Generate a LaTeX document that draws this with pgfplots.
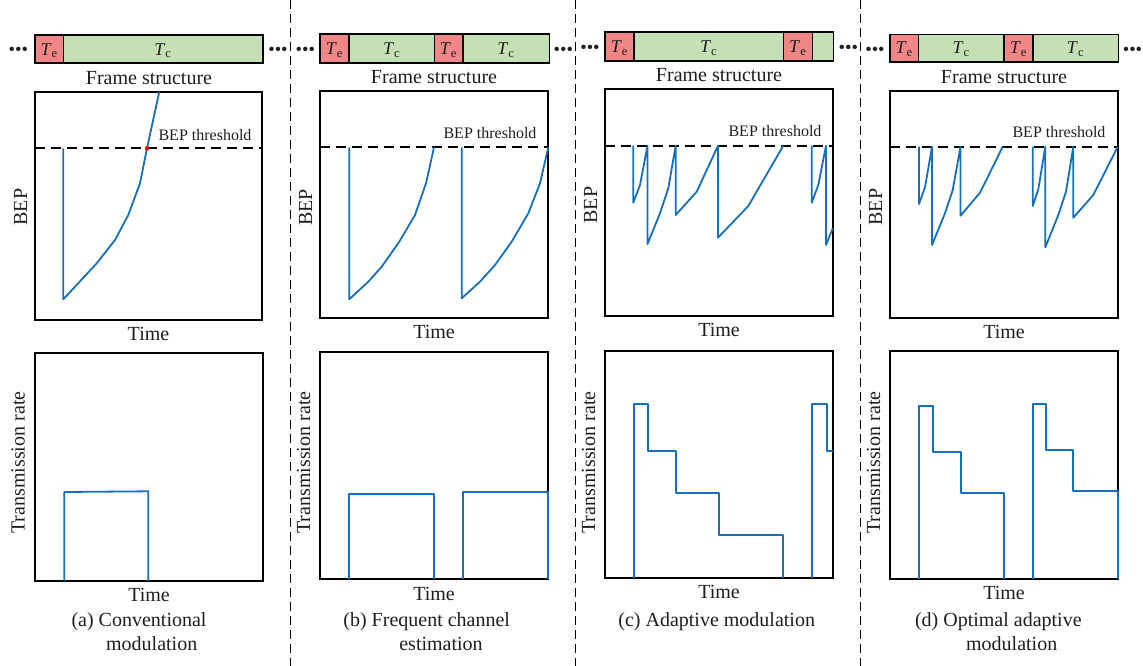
\documentclass[border=0pt]{standalone}
\usepackage{pgfplots}
\pgfplotsset{compat=1.18}
\usepackage{fontspec}
\setmainfont{Liberation Serif}
\definecolor{tecol}{RGB}{240,134,134}
\definecolor{tccol}{RGB}{197,224,180}
\definecolor{lblue}{RGB}{21,110,190}
\definecolor{txt}{RGB}{30,30,30}
\pgfplotsset{
 panel/.style={scale only axis, y dir=reverse, xtick=\empty, ytick=\empty,
   axis line style={line width=1.8pt, black}, clip=false, anchor=south west},
 curve/.style={lblue, line width=1.8pt, line join=round, no marks},
 thr/.style={black, line width=2pt, dash pattern=on 10pt off 6pt, no marks},
 seg/.style={draw=black, line width=1.6pt, no marks, line join=miter},
}
\newcommand\Te{{\fontsize{18}{18}\selectfont\textit{T}\textsubscript{e}}}
\newcommand\Tc{{\fontsize{18}{18}\selectfont\textit{T}\textsubscript{c}}}
\newcommand\ellip{{\fontsize{18.5}{20}\selectfont •••}}
\begin{document}
\fontsize{20}{24}\selectfont
\begin{tikzpicture}[every node/.style={text=txt}]
\path[use as bounding box] (0,0) rectangle (1143pt,-666pt);
% ---------- overlay: frame structures, separators, labels ----------
\begin{axis}[at={(0pt,0pt)}, anchor=north west, width=1143pt, height=666pt,
  scale only axis, xmin=0, xmax=1143, ymin=0, ymax=666, y dir=reverse,
  hide axis, clip=false]
% separators
\addplot[black, line width=1pt, dash pattern=on 9pt off 5pt, no marks] coordinates {(290,0) (290,666)};
\addplot[black, line width=1pt, dash pattern=on 9pt off 5pt, no marks] coordinates {(575,0) (575,666)};
\addplot[black, line width=1pt, dash pattern=on 9pt off 5pt, no marks] coordinates {(860,0) (860,666)};
% frame (a)
\addplot[seg, fill=tecol] coordinates {(35,35) (63.3,35) (63.3,63) (35,63)} -- cycle;
\addplot[seg, fill=tccol] coordinates {(63.3,35) (263,35) (263,63) (63.3,63)} -- cycle;
% frame (b)
\addplot[seg, fill=tecol] coordinates {(320,34) (349,34) (349,62.7) (320,62.7)} -- cycle;
\addplot[seg, fill=tccol] coordinates {(349,34) (434.3,34) (434.3,62.7) (349,62.7)} -- cycle;
\addplot[seg, fill=tecol] coordinates {(434.3,34) (462.7,34) (462.7,62.7) (434.3,62.7)} -- cycle;
\addplot[seg, fill=tccol] coordinates {(462.7,34) (549.3,34) (549.3,62.7) (462.7,62.7)} -- cycle;
% frame (c)
\addplot[seg, fill=tecol] coordinates {(605,31.7) (634,31.7) (634,60.7) (605,60.7)} -- cycle;
\addplot[seg, fill=tccol] coordinates {(634,31.7) (783.3,31.7) (783.3,60.7) (634,60.7)} -- cycle;
\addplot[seg, fill=tecol] coordinates {(783.3,31.7) (812.3,31.7) (812.3,60.7) (783.3,60.7)} -- cycle;
\addplot[seg, fill=tccol] coordinates {(812.3,31.7) (833.3,31.7) (833.3,60.7) (812.3,60.7)} -- cycle;
% frame (d)
\addplot[seg, fill=tecol] coordinates {(890,34.3) (918.3,34.3) (918.3,61.7) (890,61.7)} -- cycle;
\addplot[seg, fill=tccol] coordinates {(918.3,34.3) (1004,34.3) (1004,61.7) (918.3,61.7)} -- cycle;
\addplot[seg, fill=tecol] coordinates {(1004,34.3) (1032.7,34.3) (1032.7,61.7) (1004,61.7)} -- cycle;
\addplot[seg, fill=tccol] coordinates {(1032.7,34.3) (1118.3,34.3) (1118.3,61.7) (1032.7,61.7)} -- cycle;
% T labels
\node[anchor=base] at (axis cs:49.2,55) {\Te};
\node[anchor=base] at (axis cs:163,55) {\Tc};
\node[anchor=base] at (axis cs:334.5,54.7) {\Te};
\node[anchor=base] at (axis cs:391.7,54.7) {\Tc};
\node[anchor=base] at (axis cs:448.5,54.7) {\Te};
\node[anchor=base] at (axis cs:506,54.7) {\Tc};
\node[anchor=base] at (axis cs:619.5,52.7) {\Te};
\node[anchor=base] at (axis cs:708.7,52.7) {\Tc};
\node[anchor=base] at (axis cs:797.8,52.7) {\Te};
\node[anchor=base] at (axis cs:904.2,53.7) {\Te};
\node[anchor=base] at (axis cs:961.2,53.7) {\Tc};
\node[anchor=base] at (axis cs:1018.4,53.7) {\Te};
\node[anchor=base] at (axis cs:1075.5,53.7) {\Tc};
% ellipses
\node[anchor=base] at (axis cs:18.3,55.5) {\ellip};
\node[anchor=base] at (axis cs:278,55.5) {\ellip};
\node[anchor=base] at (axis cs:305.3,55) {\ellip};
\node[anchor=base] at (axis cs:563.3,55) {\ellip};
\node[anchor=base] at (axis cs:590,53.5) {\ellip};
\node[anchor=base] at (axis cs:848.3,53.5) {\ellip};
\node[anchor=base] at (axis cs:875,55.5) {\ellip};
\node[anchor=base] at (axis cs:1132.5,55.5) {\ellip};
% Frame structure
\node[anchor=base] at (axis cs:149,84.5) {Frame structure};
\node[anchor=base] at (axis cs:434,83.3) {Frame structure};
\node[anchor=base] at (axis cs:719,81.7) {Frame structure};
\node[anchor=base] at (axis cs:1004,83.3) {Frame structure};
% BEP threshold
\node[anchor=base, font=\fontsize{16}{18}\selectfont] at (axis cs:205,140) {BEP threshold};
\node[anchor=base, font=\fontsize{16}{18}\selectfont] at (axis cs:490,138.3) {BEP threshold};
\node[anchor=base, font=\fontsize{16}{18}\selectfont] at (axis cs:775,136.7) {BEP threshold};
\node[anchor=base, font=\fontsize{16}{18}\selectfont] at (axis cs:1059,137.7) {BEP threshold};
% Time labels
\node[anchor=base] at (axis cs:148.5,340) {Time};
\node[anchor=base] at (axis cs:434,338.5) {Time};
\node[anchor=base] at (axis cs:719,336.5) {Time};
\node[anchor=base] at (axis cs:1004,338.5) {Time};
\node[anchor=base] at (axis cs:149,601.5) {Time};
\node[anchor=base] at (axis cs:434,600) {Time};
\node[anchor=base] at (axis cs:719,598.5) {Time};
\node[anchor=base] at (axis cs:1004,599.5) {Time};
% y labels
\node[rotate=90, anchor=base] at (axis cs:27,207) {BEP};
\node[rotate=90, anchor=base] at (axis cs:312,207.5) {BEP};
\node[rotate=90, anchor=base] at (axis cs:597,205) {BEP};
\node[rotate=90, anchor=base] at (axis cs:882,207) {BEP};
\node[rotate=90, anchor=base] at (axis cs:24.5,462.5) {Transmission rate};
\node[rotate=90, anchor=base] at (axis cs:310,462.5) {Transmission rate};
\node[rotate=90, anchor=base] at (axis cs:595,462.5) {Transmission rate};
\node[rotate=90, anchor=base] at (axis cs:880,462.5) {Transmission rate};
% captions
\node[anchor=base] at (axis cs:139,626.7) {(a) Conventional};
\node[anchor=base] at (axis cs:151.7,650.7) {modulation};
\node[anchor=base] at (axis cs:426.7,626.7) {(b) Frequent channel};
\node[anchor=base] at (axis cs:441,650) {estimation};
\node[anchor=base] at (axis cs:716.7,626.7) {(c) Adaptive modulation};
\node[anchor=base] at (axis cs:998.3,626.7) {(d) Optimal adaptive};
\node[anchor=base] at (axis cs:1011.7,650) {modulation};
\end{axis}
% ---------- BEP (a) ----------
\begin{axis}[panel, at={(35pt,-320pt)}, width=227pt, height=228.3pt,
  xmin=35, xmax=262, ymin=91.7, ymax=320]
\addplot[thr] coordinates {(35,148.3) (262,148.3)};
\addplot[curve] coordinates {(63.3,148.3) (63.3,299.3) (96.7,263.3) (115,240) (128.3,215) (140,183.3) (147,148.3) (159.3,91.7)};
\addplot[only marks, mark=*, mark size=2pt, red] coordinates {(147,148.3)};
\end{axis}
% ---------- BEP (b) ----------
\begin{axis}[panel, at={(320pt,-318.3pt)}, width=228.3pt, height=227.3pt,
  xmin=320, xmax=548.3, ymin=91, ymax=318.3]
\addplot[thr] coordinates {(320,147.3) (548.3,147.3)};
\addplot[curve] coordinates {(349.3,147.3) (349.3,299.3) (368.3,281.7) (381.7,266.7) (399.3,241.7) (415,215) (426,183.3) (434,147.3)};
\addplot[curve] coordinates {(461.7,147.3) (461.7,298.3) (480,281.7) (495,265) (511.7,241.7) (528.3,213.3) (540,183.3) (548.3,147.3)};
\end{axis}
% ---------- BEP (c) ----------
\begin{axis}[panel, at={(605pt,-316pt)}, width=227.7pt, height=227pt,
  xmin=605, xmax=832.7, ymin=89, ymax=316]
\addplot[thr] coordinates {(605,145.7) (832.7,145.7)};
\addplot[curve] coordinates {(633.3,145.7) (633.3,202.7) (640,185) (647.5,145.7) (647.5,244) (660,213.3) (668.3,188.3) (675.7,145.7) (675.7,215) (696.7,191.7) (718,145.7) (718,237.7) (748.3,206) (783.3,145.7)};
\addplot[curve] coordinates {(811.7,145.7) (811.7,202.7) (818.3,185) (826,145.7) (826,245) (832.7,228.3)};
\end{axis}
% ---------- BEP (d) ----------
\begin{axis}[panel, at={(890pt,-318pt)}, width=227.7pt, height=227pt,
  xmin=890, xmax=1117.7, ymin=91, ymax=318]
\addplot[thr] coordinates {(890,146.7) (1117.7,146.7)};
\addplot[curve] coordinates {(919,146.7) (919,204) (925,187.3) (932,146.7) (932,245) (945,213.3) (952.7,190) (960.5,146.7) (960.5,215.7) (980,192.7) (1002.7,146.7)};
\addplot[curve] coordinates {(1032.7,146.7) (1032.7,206) (1038.3,189.3) (1045.3,146.7) (1045.3,247.3) (1058.3,215) (1066,191.7) (1073.3,146.7) (1073.3,217.7) (1093.3,195) (1117.7,146.7)};
\end{axis}
% ---------- Rate (a) ----------
\begin{axis}[panel, at={(35pt,-581pt)}, width=228pt, height=228pt,
  xmin=35, xmax=263, ymin=353, ymax=581]
\addplot[curve] coordinates {(64.3,581) (64.3,492) (148.3,491.3) (148.3,581)};
\end{axis}
% ---------- Rate (b) ----------
\begin{axis}[panel, at={(320pt,-579.3pt)}, width=228.3pt, height=227.6pt,
  xmin=320, xmax=548.3, ymin=351.7, ymax=579.3]
\addplot[curve] coordinates {(349.3,579.3) (349.3,494.3) (434,494.3) (434,579.3)};
\addplot[curve] coordinates {(462.7,579.3) (462.7,491.7) (548.3,491.7) (548.3,579.3)};
\end{axis}
% ---------- Rate (c) ----------
\begin{axis}[panel, at={(605pt,-578.3pt)}, width=228pt, height=227.3pt,
  xmin=605, xmax=833, ymin=351, ymax=578.3]
\addplot[curve] coordinates {(634.3,578.3) (634.3,404.3) (648.3,404.3) (648.3,450.7) (676,450.7) (676,492.7) (719.3,492.7) (719.3,535.3) (782.7,535.3) (782.7,578.3)};
\addplot[curve] coordinates {(811.7,578.3) (811.7,404.3) (826.7,404.3) (826.7,450.7) (833,450.7)};
\end{axis}
% ---------- Rate (d) ----------
\begin{axis}[panel, at={(890pt,-579pt)}, width=228pt, height=228pt,
  xmin=890, xmax=1118, ymin=351, ymax=579]
\addplot[curve] coordinates {(919.3,579) (919.3,406) (933.3,406) (933.3,451.7) (961,451.7) (961,492.7) (1004.3,492.7) (1004.3,579)};
\addplot[curve] coordinates {(1032.7,579) (1032.7,404.3) (1046,404.3) (1046,450.3) (1073.3,450.3) (1073.3,491) (1118,491) (1118,579)};
\end{axis}
\end{tikzpicture}
\end{document}
